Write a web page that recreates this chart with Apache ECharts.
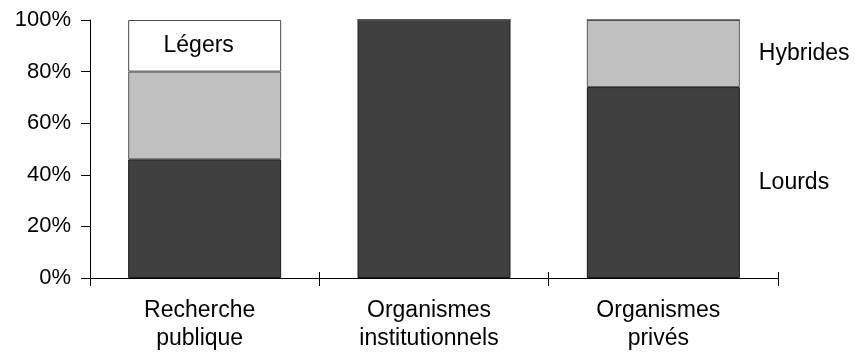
<!DOCTYPE html>
<html>
<head>
<meta charset="utf-8">
<script src="https://cdn.jsdelivr.net/npm/echarts@6/dist/echarts.min.js"></script>
<style>
  html, body { margin: 0; padding: 0; background: #fff; }
  #main { width: 855px; height: 354px; }
</style>
</head>
<body>
<div id="main"></div>
<script>
// catégories et parts (%)
var categories = ['Recherche\npublique', 'Organismes\ninstitutionnels', 'Organismes\nprivés'];
var lourds = [46, 100, 74];
var hybrides = [34, 0, 26];
var legers = [20, 0, 0];
var yTicks = [0, 20, 40, 60, 80, 100];

var font = 'Liberation Sans, Arial, sans-serif';

var chart = echarts.init(document.getElementById('main'));

function withLabel(arr, idx, label) {
  return arr.map(function (v, i) {
    if (i !== idx) return v;
    return { value: v, label: label };
  });
}

var sideLabel = function (text) {
  return {
    show: true, position: 'right', distance: 19, formatter: text,
    color: '#000', fontSize: 23, fontFamily: font
  };
};

var option = {
  backgroundColor: '#fff',
  animation: false,
  grid: { left: 90, right: 77, top: 20, bottom: 76 },
  xAxis: [{
    type: 'category',
    data: categories,
    boundaryGap: true,
    axisLine: { lineStyle: { color: '#000', width: 1 } },
    axisTick: { show: true, length: 8, lineStyle: { color: '#000' } },
    axisLabel: {
      color: '#000', fontSize: 23, fontFamily: font, lineHeight: 28, margin: 19,
      padding: [0, 10, 0, 0]
    }
  }, {
    // petits traits vers le haut (les graduations traversent l'axe)
    type: 'category',
    data: categories,
    position: 'bottom',
    axisLine: { show: false },
    axisTick: { show: true, inside: true, length: 6, lineStyle: { color: '#000' } },
    axisLabel: { show: false }
  }],
  yAxis: {
    type: 'value',
    min: 0,
    max: 100,
    interval: 20,
    axisLine: { show: true, lineStyle: { color: '#000', width: 1 } },
    axisTick: { show: true, length: 9, lineStyle: { color: '#000' } },
    splitLine: { show: false },
    axisLabel: {
      color: '#000', fontSize: 22, fontFamily: font, margin: 19,
      formatter: function (v) { return yTicks.indexOf(v) >= 0 ? v + '%' : ''; }
    }
  },
  series: [{
    name: 'Lourds',
    type: 'bar',
    stack: 'total',
    barWidth: 153,
    itemStyle: { color: '#404040', borderColor: '#1a1a1a', borderWidth: 1 },
    data: withLabel(lourds, 2, sideLabel('Lourds'))
  }, {
    name: 'Hybrides',
    type: 'bar',
    stack: 'total',
    barWidth: 153,
    itemStyle: { color: '#c0c0c0', borderColor: '#5a5a5a', borderWidth: 1 },
    data: withLabel(hybrides, 2, sideLabel('Hybrides'))
  }, {
    name: 'Légers',
    type: 'bar',
    stack: 'total',
    barWidth: 153,
    itemStyle: { color: '#ffffff', borderColor: '#4a4a4a', borderWidth: 1 },
    data: withLabel(legers, 0, {
      show: true, position: 'inside', offset: [-6, 0], formatter: 'Légers',
      color: '#000', fontSize: 23, fontFamily: font
    })
  }]
};

chart.setOption(option);
</script>
</body>
</html>
